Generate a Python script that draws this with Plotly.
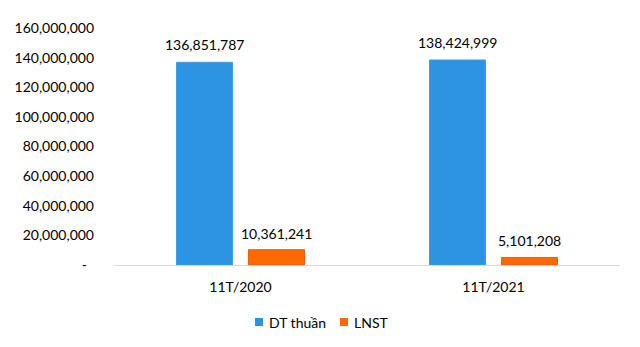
import plotly.graph_objects as go

# Revenue and profit for the first 11 months of each year
categories = ["11T/2020", "11T/2021"]
dt_thuan = [136851787, 138424999]
lnst = [10361241, 5101208]
y_ticks = [0, 20000000, 40000000, 60000000, 80000000,
           100000000, 120000000, 140000000, 160000000]
series_names = ["DT thuần", "LNST"]

BLUE = "#2C95E3"
ORANGE = "#FF6A00"
FONT = "Lato"
TEXT = "#000000"

# plot area in pixels (used to place the legend below the axis)
L, R, T, B = 114, 20, 28, 82
W, H = 640, 347
PW, PH = W - L - R, H - T - B


def fmt(v):
    return f"{v:,.0f}"


def tick_text(v):
    # accounting style: zero drawn as a dash
    return "-\u00a0\u00a0" if v == 0 else fmt(v)


def px_x(p):
    return (p - L) / PW


def px_y(p):
    return (H - B - p) / PH


fig = go.Figure()
fig.add_trace(go.Bar(name=series_names[0], x=categories, y=dt_thuan,
                     marker=dict(color=BLUE, line=dict(color="#3FA0EA", width=1))))
fig.add_trace(go.Bar(name=series_names[1], x=categories, y=lnst,
                     marker=dict(color=ORANGE, line=dict(color="#F25A1A", width=1))))

# value labels above each bar
SLOT_PX = 36
for vals, shift, ys in ((dt_thuan, -SLOT_PX, 7), (lnst, SLOT_PX, 6)):
    for cat, v in zip(categories, vals):
        fig.add_annotation(x=cat, y=v, text=fmt(v), showarrow=False,
                           xshift=shift, yshift=ys, yanchor="bottom",
                           font=dict(family=FONT, size=14, color=TEXT))

# legend: small square swatch followed by the series name
for name, color, sx, tx in ((series_names[0], BLUE, 255, 267),
                            (series_names[1], ORANGE, 340, 352)):
    fig.add_shape(type="rect", xref="paper", yref="paper",
                  x0=px_x(sx), x1=px_x(sx + 8), y0=px_y(326), y1=px_y(318),
                  fillcolor=color, line=dict(width=0))
    fig.add_annotation(xref="paper", yref="paper", x=px_x(tx), y=px_y(322),
                       text=name, showarrow=False, xanchor="left",
                       yanchor="middle",
                       font=dict(family=FONT, size=14, color=TEXT))

fig.update_layout(
    width=W, height=H,
    margin=dict(l=L, r=R, t=T, b=B),
    paper_bgcolor="white", plot_bgcolor="white",
    barmode="group", bargap=0.431, bargroupgap=0.222,
    font=dict(family=FONT, size=14, color=TEXT),
    showlegend=False,
)
fig.update_xaxes(showline=True, linecolor="#D9D9D9", linewidth=1,
                 ticks="", showgrid=False, ticklabelstandoff=9,
                 tickfont=dict(family=FONT, size=14, color=TEXT))
fig.update_yaxes(range=[0, 160000000], tickvals=y_ticks,
                 ticktext=[tick_text(v) for v in y_ticks],
                 showgrid=False, zeroline=False, showline=False, ticks="",
                 ticklabelstandoff=19,
                 tickfont=dict(family=FONT, size=14, color=TEXT))

fig.write_html("out.html")
